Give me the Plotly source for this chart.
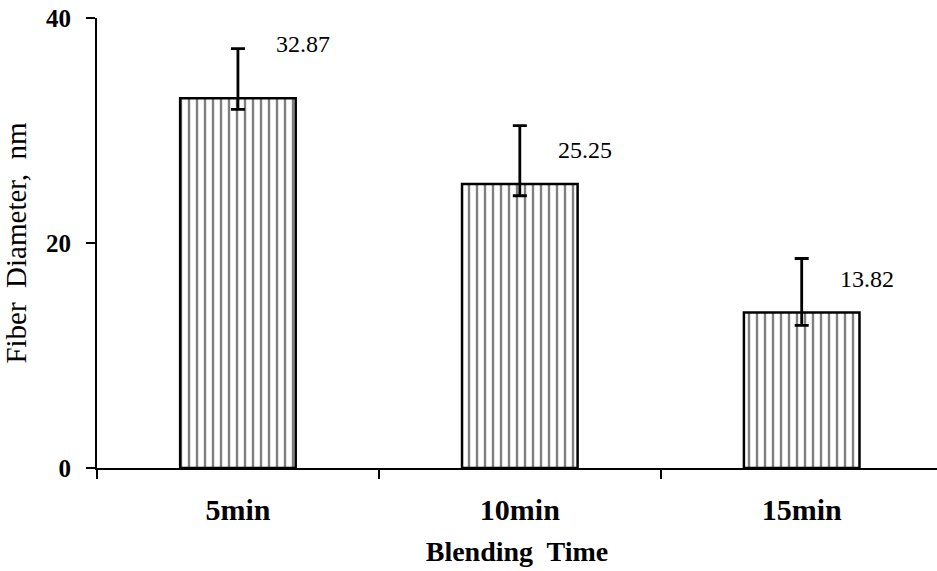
import plotly.graph_objects as go

# Fiber diameter versus blending time
categories = ["5min", "10min", "15min"]
diameters = [32.87, 25.25, 13.82]
err_plus = [4.4, 5.18, 4.8]
err_minus = [1.0, 1.05, 1.14]
label_y = [37.7, 28.3, 16.8]
y_ticks = [0, 20, 40]

FONT = "Liberation Serif, Times New Roman, serif"

fig = go.Figure()
fig.add_trace(go.Bar(
    x=categories,
    y=diameters,
    width=0.41,
    marker=dict(
        color="white",
        line=dict(color="black", width=2.5),
        pattern=dict(shape="|", size=8, solidity=0.3,
                     fgcolor="black", bgcolor="white"),
    ),
    error_y=dict(type="data", symmetric=False, array=err_plus,
                 arrayminus=err_minus, color="black", thickness=2.8, width=7),
    showlegend=False,
))

for c, v, ly in zip(categories, diameters, label_y):
    fig.add_annotation(x=c, y=ly, text=f"{v:.2f}", showarrow=False,
                       xshift=65, font=dict(family=FONT, size=24, color="black"))

fig.update_layout(
    width=937, height=571,
    margin=dict(l=97, r=0, t=18, b=103),
    plot_bgcolor="white", paper_bgcolor="white",
    font=dict(family=FONT, color="black"),
    xaxis=dict(
        range=[-0.5, 2.48],
        showline=True, linecolor="black", linewidth=2,
        ticks="outside", ticklen=9, tickwidth=2, tickcolor="black",
        tickson="boundaries",
        tickfont=dict(family=FONT, size=30, color="black", weight="bold"),
        ticklabelstandoff=14,
        title=dict(text="Blending  Time", standoff=16,
                   font=dict(family=FONT, size=28, color="black", weight="bold")),
        showgrid=False, zeroline=False,
    ),
    yaxis=dict(
        range=[0, 40],
        tickvals=y_ticks,
        showline=True, linecolor="black", linewidth=2,
        ticks="outside", ticklen=9, tickwidth=2, tickcolor="black",
        tickfont=dict(family=FONT, size=25, color="black", weight="bold"),
        ticklabelstandoff=10,
        title=dict(text="Fiber  Diameter,  nm", standoff=18,
                   font=dict(family=FONT, size=29, color="black")),
        showgrid=False, zeroline=False,
    ),
)

fig.write_html("out.html")
